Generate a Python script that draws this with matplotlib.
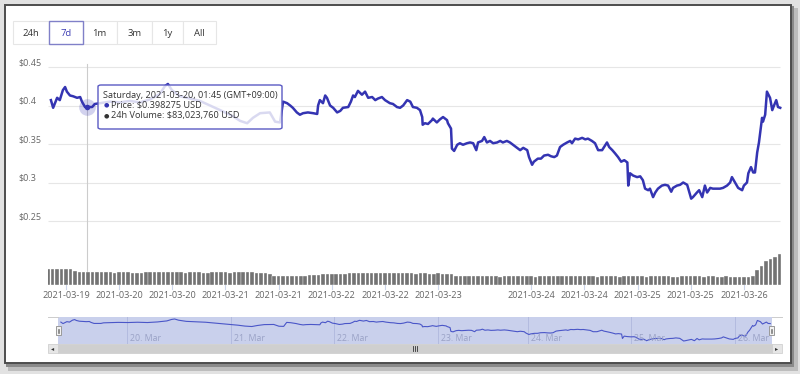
import numpy as np
import matplotlib
matplotlib.use('Agg')
import matplotlib.pyplot as plt
from matplotlib.patches import Rectangle, FancyBboxPatch
from matplotlib.lines import Line2D
from matplotlib import transforms

plt.rcParams['font.family'] = ['Open Sans', 'DejaVu Sans']

# hours since 2021-03-19 00:00 UTC (ordinal axis: the short data gap on the 23rd is squeezed out)
hours = [8.6, 9.1, 10.0, 10.6, 11.3, 11.8, 12.2, 12.9, 13.6, 14.5, 15.2, 15.6, 16.3, 17.0, 17.9, 18.5,
         19.7, 21.9, 24.2, 26.4, 28.7, 31.0, 33.2, 34.3, 35.0, 35.9, 37.7, 40.0, 42.2, 44.5, 46.8,
         49.7, 51.3, 52.9, 54.2, 55.8, 58.0, 59.2, 60.3, 61.0, 61.9, 62.6, 63.2, 64.1, 64.8, 65.5,
         66.6, 67.8, 68.7, 68.9, 69.3, 70.0, 70.5, 70.9, 71.6, 72.3, 73.2, 73.9, 74.5, 75.7, 76.3,
         76.8, 77.2, 77.9, 78.8, 79.5, 80.2, 81.1, 81.8, 82.4, 83.3, 84.0, 85.1, 85.8, 86.7, 87.4,
         88.1, 89.0, 89.7, 90.3, 91.2, 91.9, 92.4, 92.5, 93.0, 93.7, 94.6, 94.8, 95.7, 96.4, 97.1,
         98.0, 98.2, 98.9, 99.1, 99.6, 100.3, 100.9, 101.6, 102.5, 103.2, 103.9, 104.6, 105.0, 105.9,
         106.4, 107.0, 107.7, 108.4, 109.3, 110.0, 110.6, 111.5, 112.2, 112.9, 113.8, 114.5, 115.2,
         116.1, 116.5, 117.2, 117.6, 118.5, 119.2, 119.9, 120.8, 121.5, 122.2, 122.8, 123.5, 124.2,
         125.1, 125.8, 126.2, 126.9, 127.6, 128.5, 129.2, 129.8, 130.7, 131.4, 132.1, 133.0, 134.1,
         134.6, 135.3, 135.9, 136.6, 137.3, 138.0, 138.7, 138.9, 139.3, 140.0, 140.9, 141.6, 142.2,
         142.7, 143.4, 143.8, 144.5, 145.0, 145.6, 146.5, 147.2, 147.9, 148.6, 149.0, 149.9, 150.6,
         151.3, 152.2, 152.4, 153.1, 153.5, 154.4, 154.9, 155.6, 156.2, 156.7, 157.4, 158.0, 158.9,
         159.6, 160.3, 161.2, 161.9, 162.3, 163.0, 163.7, 164.6, 165.0, 165.7, 166.0, 166.6, 167.1,
         167.5, 168.0, 168.4, 169.1, 169.3, 169.8, 170.2, 170.9, 171.4, 171.8, 172.3, 172.7, 173.2]
price = [0.407, 0.397, 0.410, 0.407, 0.420, 0.424, 0.418, 0.413, 0.412, 0.410, 0.411, 0.405, 0.398, 0.398, 0.398, 0.402,
         0.403, 0.405, 0.404, 0.406, 0.404, 0.408, 0.415, 0.425, 0.428, 0.420, 0.412, 0.409, 0.406, 0.400, 0.394,
         0.386, 0.380, 0.377, 0.384, 0.390, 0.391, 0.379, 0.378, 0.405, 0.403, 0.400, 0.397, 0.391, 0.388, 0.390,
         0.391, 0.390, 0.389, 0.400, 0.407, 0.403, 0.413, 0.410, 0.400, 0.397, 0.391, 0.393, 0.397, 0.398, 0.405,
         0.413, 0.411, 0.419, 0.414, 0.418, 0.410, 0.411, 0.407, 0.409, 0.411, 0.407, 0.403, 0.402, 0.398, 0.397,
         0.400, 0.407, 0.405, 0.398, 0.397, 0.394, 0.385, 0.375, 0.377, 0.376, 0.381, 0.383, 0.378, 0.382, 0.385,
         0.381, 0.377, 0.370, 0.344, 0.341, 0.349, 0.351, 0.349, 0.351, 0.352, 0.351, 0.342, 0.352, 0.354,
         0.359, 0.352, 0.354, 0.351, 0.352, 0.354, 0.352, 0.354, 0.352, 0.349, 0.345, 0.342, 0.345,
         0.342, 0.333, 0.323, 0.327, 0.331, 0.331, 0.335, 0.336, 0.334, 0.333, 0.335, 0.346, 0.349,
         0.352, 0.354, 0.351, 0.357, 0.356, 0.358, 0.356, 0.357, 0.354, 0.351, 0.342, 0.342, 0.352,
         0.346, 0.342, 0.338, 0.333, 0.327, 0.329, 0.326, 0.296, 0.312, 0.309, 0.307, 0.308, 0.303,
         0.292, 0.290, 0.292, 0.281, 0.287, 0.292, 0.296, 0.297, 0.296, 0.288, 0.293, 0.296, 0.297,
         0.300, 0.297, 0.293, 0.279, 0.281, 0.287, 0.290, 0.281, 0.296, 0.287, 0.293, 0.292, 0.292,
         0.292, 0.293, 0.296, 0.300, 0.307, 0.300, 0.293, 0.290, 0.296, 0.300, 0.312, 0.320, 0.313,
         0.313, 0.339, 0.352, 0.384, 0.379, 0.388, 0.418, 0.410, 0.394, 0.400, 0.407, 0.398, 0.397]

# hourly 24h volume, million USD
vol_hours = np.arange(8, 174)
volume = [104, 106, 105, 107, 105, 103, 90, 86, 84, 83, 83, 82,
          82, 83, 82, 81, 82, 83, 82, 81, 80, 81, 82, 82,
          82, 83, 84, 84, 83, 82, 82, 81, 82, 83, 82, 81,
          81, 82, 82, 83, 82, 81, 82, 82, 83, 83, 82, 80,
          80, 79, 70, 62, 61, 60, 61, 60, 61, 61, 62, 63,
          66, 68, 70, 71, 72, 73, 74, 75, 76, 77, 78, 78,
          79, 80, 80, 79, 78, 77, 76, 76, 76, 77, 76, 75,
          76, 76, 75, 74, 76, 75, 74, 70, 60, 57, 56, 56,
          56, 57, 56, 56, 57, 56, 55, 56, 57, 56, 56, 57,
          57, 56, 55, 56, 57, 57, 56, 57, 56, 56, 57, 56,
          57, 58, 57, 56, 55, 56, 56, 57, 56, 55, 56, 57,
          56, 57, 56, 55, 56, 56, 57, 56, 56, 55, 55, 56,
          56, 57, 56, 56, 55, 56, 56, 55, 55, 56, 54, 52,
          50, 50, 51, 62, 95, 125, 155, 172, 185, 200]

tick_hours = [12, 24, 36, 48, 60, 72, 84, 96, 117, 129, 141, 153, 165]
tick_labels = ['2021-03-19', '2021-03-20', '2021-03-20', '2021-03-21', '2021-03-21', '2021-03-22',
               '2021-03-22', '2021-03-23', '2021-03-24', '2021-03-24', '2021-03-25', '2021-03-25',
               '2021-03-26']
price_ticks = [0.25, 0.3, 0.35, 0.4, 0.45]
price_labels = ['$0.25', '$0.3', '$0.35', '$0.4', '$0.45']
nav_hours = [24, 48, 72, 96, 117, 141, 165]
nav_labels = ['20. Mar', '21. Mar', '22. Mar', '23. Mar', '24. Mar', '25. Mar', '26. Mar']
ranges = ['24h', '7d', '1m', '3m', '1y', 'All']
selected = '7d'

tip_hour, tip_price = 16.75, 0.398275
tip_lines = ['Saturday, 2021-03-20, 01:45 (GMT+09:00)', 'Price: $0.398275 USD', '24h Volume: $83,023,760 USD']

W, H = 800, 374
LINE = '#3434b2'
X0, X1 = 7.94, 173.6


def fx(x):
    return x / W


def fy(y):
    return 1 - y / H


def box(x0, y0, x1, y1):
    return [fx(x0), fy(y1), (x1 - x0) / W, (y1 - y0) / H]


def rect(x0, y0, x1, y1, **kw):
    r = Rectangle((fx(x0), fy(y1)), (x1 - x0) / W, (y1 - y0) / H, transform=fig.transFigure, **kw)
    fig.patches.append(r)
    return r


fig = plt.figure(figsize=(W / 100, H / 100), dpi=100)
fig.patch.set_facecolor('#e2e2e2')

# frame with a soft shadow
rect(8, 8, 798, 371, fc='#bdbdbd', ec='none', zorder=-3)
rect(6, 6, 794, 367, fc='#8a8a8a', ec='none', zorder=-2)
rect(5, 5, 791, 363, fc='white', ec='#4d4d4d', lw=1.4, zorder=-1)

# range selector
edges = [12.7, 49.3, 82.7, 116.7, 151.7, 183.3, 216]
for i, lab in enumerate(ranges):
    on = lab == selected
    rect(edges[i], 21, edges[i + 1], 44, fc='white', ec='#8080c8' if on else '#e6e6e6',
         lw=1.0 if on else 0.8, zorder=0.3 if on else 0.2)
    fig.text(fx((edges[i] + edges[i + 1]) / 2), fy(33), lab, ha='center', va='center',
             size=6.8, color='#3b3bb3' if on else '#333333')

# price panel
ax = fig.add_axes(box(48, 60, 782, 240))
ax.set_xlim(X0, X1)
slope = 0.05 / 38.5
ax.set_ylim(0.25 - (240 - 221) * slope, 0.45 + (67 - 60) * slope)
ax.set_axis_off()
ax.hlines(price_ticks, X0, 173.2, color='#e6e6e6', lw=0.8, zorder=0)
ax.axvline(tip_hour, ymin=0, ymax=(240 - 64) / 180, color='#cccccc', lw=0.8, zorder=0.5)
ax.plot(hours, price, color=LINE, lw=1.8, solid_joinstyle='round', zorder=2)
ax.plot(tip_hour, tip_price, 'o', ms=12, color=LINE, alpha=0.22, mew=0, zorder=3)
ax.plot(tip_hour, tip_price, 'o', ms=4, color=LINE, mew=0, zorder=3)

ylab = transforms.offset_copy(transforms.blended_transform_factory(fig.transFigure, ax.transData),
                              fig=fig, y=4, units='dots')
for v, lab in zip(price_ticks, price_labels):
    fig.text(fx(18), v, lab, transform=ylab, ha='left', va='center', size=6.5, color='#666666')

# volume panel
axv = fig.add_axes(box(48, 240, 782, 285))
axv.set_xlim(X0, X1)
axv.set_ylim(0, 45 * 6.55)
axv.set_axis_off()
axv.axvline(tip_hour, color='#cccccc', lw=0.8, zorder=0.5)
axv.bar(vol_hours, volume, width=0.8, color='#737373', ec='white', lw=0.25, zorder=1)

xt = transforms.blended_transform_factory(ax.transData, fig.transFigure)
for h, lab in zip(tick_hours, tick_labels):
    fig.text(h, fy(296), lab, transform=xt, ha='center', va='center', size=6.6, color='#666666')
    fig.lines.append(Line2D([h, h], [fy(285), fy(289)], transform=xt, color='#ccd6eb', lw=0.8))

# tooltip
tip = FancyBboxPatch((fx(98), fy(129)), 184 / W, 44 / H, boxstyle='round,pad=0,rounding_size=0.004',
                     transform=fig.transFigure, fc=(1, 1, 1, 0.82), ec='#5b5bc4', lw=1.0, zorder=2)
fig.patches.append(tip)
fig.text(fx(103), fy(95.7), tip_lines[0], ha='left', va='center', size=6.6, color='#333333', zorder=4)
for yy, col, txt in [(105.3, LINE, tip_lines[1]), (115.7, '#333333', tip_lines[2])]:
    fig.text(fx(103.5), fy(yy), '\u25cf', family='DejaVu Sans', ha='left', va='center', size=4.5,
             color=col, zorder=4)
    fig.text(fx(111), fy(yy), txt, ha='left', va='center', size=6.6, color='#333333', zorder=4)

# navigator
axn = fig.add_axes(box(58, 317, 772, 344))
axn.set_xlim(X0, X1)
axn.set_ylim(0.2587, 0.4415)
axn.set_facecolor('#c9d0ec')
for s in axn.spines.values():
    s.set_visible(False)
axn.set_xticks([])
axn.set_yticks([])
for h, lab in zip(nav_hours, nav_labels):
    axn.axvline(h, color='#b3bbdf', lw=0.7, zorder=0.5)
    axn.text(h, 0.22, lab, transform=transforms.offset_copy(axn.get_xaxis_transform(), fig=fig, x=3, units='dots'),
             ha='left', va='center', size=6.3, color='#9aa2c6')
axn.plot(hours, price, color='#4a56c8', lw=0.8, zorder=2)
fig.lines.append(Line2D([fx(48), fx(58)], [fy(317), fy(317)], transform=fig.transFigure, color='#cccccc', lw=0.7))
fig.lines.append(Line2D([fx(772), fx(782)], [fy(317), fy(317)], transform=fig.transFigure, color='#cccccc', lw=0.7))

# navigator handles
for hx in [58.5, 771.5]:
    rect(hx - 2.5, 326, hx + 2.5, 335, fc='#f2f2f2', ec='#999999', lw=0.7, zorder=3)
    for dx in [-0.8, 0.8]:
        fig.lines.append(Line2D([fx(hx + dx), fx(hx + dx)], [fy(328.5), fy(332.5)], transform=fig.transFigure,
                                color='#666666', lw=0.5, zorder=4))

# scrollbar
rect(48, 344, 782, 353, fc='#f2f2f2', ec='none', zorder=1)
rect(58, 344, 772, 353, fc='#cfcfcf', ec='#cccccc', lw=0.5, zorder=1.5)
for bx0, bx1, arrow in [(48, 58, '\u25c2'), (772, 782, '\u25b8')]:
    rect(bx0, 344, bx1, 353, fc='#e6e6e6', ec='#cccccc', lw=0.5, zorder=1.6)
    fig.text(fx((bx0 + bx1) / 2), fy(348.5), arrow, family='DejaVu Sans', ha='center', va='center',
             size=4.5, color='#333333')
for gx in [413, 415, 417]:
    fig.lines.append(Line2D([fx(gx), fx(gx)], [fy(346), fy(351)], transform=fig.transFigure,
                            color='#333333', lw=0.6, zorder=2))

fig.savefig('out.png', dpi=100, facecolor=fig.get_facecolor())
